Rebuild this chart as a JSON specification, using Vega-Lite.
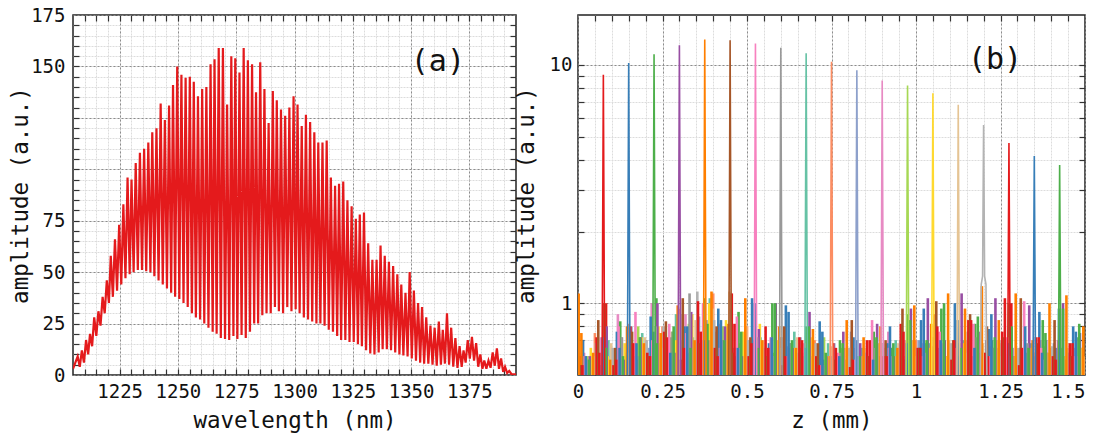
{
"$schema": "https://vega.github.io/schema/vega-lite/v6.json",
"background": "white",
"padding": {"left": 8, "top": 5, "right": 0, "bottom": 0},
"spacing": -4,
"config": {
  "font": "DejaVu Sans Mono",
  "view": {"stroke": "#222", "strokeWidth": 1.5},
  "axis": {"labelFont": "DejaVu Sans Mono", "titleFont": "DejaVu Sans Mono", "labelFontSize": 19, "titleFontSize": 22.5, "labelColor": "#111", "titleColor": "#111", "titleFontWeight": "normal", "domain": false, "tickColor": "#333", "tickWidth": 1.2, "minExtent": 0, "labelFlush": false}
},
"datasets": {
"spec": [
{"w":1205,"v":3},
{"w":1207,"v":9},{"w":1207.9,"v":4},{"w":1208.8,"v":12},{"w":1209.7,"v":6},{"w":1210.6,"v":17},{"w":1211.5,"v":10},{"w":1212.3,"v":20},{"w":1213.2,"v":14},{"w":1214.1,"v":28},{"w":1215,"v":19},
{"w":1215.9,"v":31},{"w":1216.8,"v":24},{"w":1217.7,"v":38},{"w":1218.6,"v":30},{"w":1219.5,"v":46},{"w":1220.4,"v":35},{"w":1221.2,"v":58},{"w":1222.1,"v":38},{"w":1223,"v":66},{"w":1223.9,"v":41},
{"w":1224.8,"v":73},{"w":1225.7,"v":44},{"w":1226.6,"v":83},{"w":1227.5,"v":47},{"w":1228.4,"v":96},{"w":1229.3,"v":49},{"w":1230.1,"v":95},{"w":1231,"v":50},{"w":1231.9,"v":103},{"w":1232.8,"v":51},
{"w":1233.7,"v":108},{"w":1234.6,"v":51},{"w":1235.5,"v":110},{"w":1236.4,"v":50.5},{"w":1237.3,"v":113},{"w":1238.2,"v":50},{"w":1239,"v":118},{"w":1239.9,"v":48},{"w":1240.8,"v":120},{"w":1241.7,"v":46},
{"w":1242.6,"v":132},{"w":1243.5,"v":44},{"w":1244.4,"v":124},{"w":1245.3,"v":42},{"w":1246.2,"v":131},{"w":1247.1,"v":40},{"w":1247.9,"v":141},{"w":1248.8,"v":38},{"w":1249.7,"v":150},{"w":1250.6,"v":37},
{"w":1251.5,"v":146},{"w":1252.4,"v":35},{"w":1253.3,"v":144.5},{"w":1254.2,"v":33},{"w":1255.1,"v":145},{"w":1256,"v":30},{"w":1256.8,"v":142.5},{"w":1257.7,"v":28},{"w":1258.6,"v":135.5},{"w":1259.5,"v":27},
{"w":1260.4,"v":139},{"w":1261.3,"v":25},{"w":1262.2,"v":140},{"w":1263.1,"v":23},{"w":1264,"v":151},{"w":1264.9,"v":21},{"w":1265.7,"v":153.5},{"w":1266.6,"v":20},{"w":1267.5,"v":159},{"w":1268.4,"v":18},
{"w":1269.3,"v":159},{"w":1270.2,"v":17.5},{"w":1271.1,"v":131.5},{"w":1272,"v":17},{"w":1272.9,"v":155},{"w":1273.8,"v":19},{"w":1274.6,"v":154},{"w":1275.5,"v":17.5},{"w":1276.4,"v":147},{"w":1277.3,"v":19.5},
{"w":1278.2,"v":159},{"w":1279.1,"v":18},{"w":1280,"v":153},{"w":1280.9,"v":21},{"w":1281.8,"v":151},{"w":1282.7,"v":25},{"w":1283.5,"v":137.5},{"w":1284.4,"v":25},{"w":1285.3,"v":152},{"w":1286.2,"v":29},
{"w":1287.1,"v":139},{"w":1288,"v":30},{"w":1288.9,"v":122.5},{"w":1289.8,"v":30},{"w":1290.7,"v":138},{"w":1291.6,"v":33},{"w":1292.4,"v":133.5},{"w":1293.3,"v":31},{"w":1294.2,"v":129},{"w":1295.1,"v":30},
{"w":1296,"v":126},{"w":1296.9,"v":33},{"w":1297.8,"v":130},{"w":1298.7,"v":31},{"w":1299.6,"v":135.5},{"w":1300.5,"v":32},{"w":1301.3,"v":131.5},{"w":1302.2,"v":30},{"w":1303.1,"v":121},{"w":1304,"v":28},
{"w":1304.9,"v":126.5},{"w":1305.8,"v":27},{"w":1306.7,"v":123},{"w":1307.6,"v":26},{"w":1308.5,"v":118},{"w":1309.4,"v":25},{"w":1310.2,"v":113},{"w":1311.1,"v":25},{"w":1312,"v":113},{"w":1312.9,"v":24},
{"w":1313.8,"v":114},{"w":1314.7,"v":22},{"w":1315.6,"v":96},{"w":1316.5,"v":21},{"w":1317.4,"v":92},{"w":1318.3,"v":19},{"w":1319.1,"v":93},{"w":1320,"v":17},{"w":1320.9,"v":94},{"w":1321.8,"v":17},
{"w":1322.7,"v":85},{"w":1323.6,"v":16},{"w":1324.5,"v":82},{"w":1325.4,"v":16},{"w":1326.3,"v":76},{"w":1327.2,"v":15},{"w":1328,"v":78},{"w":1328.9,"v":14},{"w":1329.8,"v":79},{"w":1330.7,"v":12},
{"w":1331.6,"v":64},{"w":1332.5,"v":10.5},{"w":1333.4,"v":56},{"w":1334.3,"v":10},{"w":1335.2,"v":56},{"w":1336.1,"v":11},{"w":1336.9,"v":63},{"w":1337.8,"v":12.5},{"w":1338.7,"v":58},{"w":1339.6,"v":12.5},
{"w":1340.5,"v":55},{"w":1341.4,"v":12},{"w":1342.3,"v":53},{"w":1343.2,"v":11},{"w":1344.1,"v":49},{"w":1345,"v":10},{"w":1345.8,"v":44},{"w":1346.7,"v":9.5},{"w":1347.6,"v":40},{"w":1348.5,"v":9},
{"w":1349.4,"v":50},{"w":1350.3,"v":8},{"w":1351.2,"v":41},{"w":1352.1,"v":7},{"w":1353,"v":35},{"w":1353.9,"v":6},{"w":1354.7,"v":33},{"w":1355.6,"v":5.5},{"w":1356.5,"v":28},{"w":1357.4,"v":5.5},
{"w":1358.3,"v":24},{"w":1359.2,"v":5},{"w":1360.1,"v":23},{"w":1361,"v":4.5},{"w":1361.9,"v":26},{"w":1362.8,"v":5},{"w":1363.6,"v":22},{"w":1364.5,"v":5.5},{"w":1365.4,"v":30},{"w":1366.3,"v":5},
{"w":1367.2,"v":23},{"w":1368.1,"v":4},{"w":1369,"v":18},{"w":1369.9,"v":3.5},{"w":1370.8,"v":14},{"w":1371.7,"v":4},{"w":1372.5,"v":12},{"w":1373.4,"v":6},{"w":1374.3,"v":17},{"w":1375.2,"v":8},
{"w":1376.1,"v":18.5},{"w":1377,"v":7},{"w":1377.9,"v":15.5},{"w":1378.8,"v":4},{"w":1379.7,"v":10},{"w":1380.6,"v":3},{"w":1381.4,"v":7},{"w":1382.3,"v":3},{"w":1383.2,"v":7},{"w":1384.1,"v":3.5},
{"w":1385,"v":11},{"w":1385.9,"v":4.5},{"w":1386.8,"v":13},{"w":1387.7,"v":3},{"w":1388.6,"v":8},{"w":1389.5,"v":1.5},{"w":1390.3,"v":4},{"w":1391.2,"v":1},{"w":1392.1,"v":2},{"w":1393,"v":0.5},
{"w":1395,"v":0.3}
],
"peaks": [
{"k":9,"z":0.671,"a":0.45},{"k":9,"z":0.675,"a":11.2},{"k":9,"z":0.679,"a":0.45},
{"k":10,"z":0.746,"a":0.45},{"k":10,"z":0.75,"a":10.3},{"k":10,"z":0.754,"a":0.45},
{"k":11,"z":0.821,"a":0.45},{"k":11,"z":0.825,"a":9.5},{"k":11,"z":0.829,"a":0.45},
{"k":12,"z":0.896,"a":0.45},{"k":12,"z":0.9,"a":8.6},{"k":12,"z":0.904,"a":0.45},
{"k":13,"z":0.971,"a":0.45},{"k":13,"z":0.975,"a":8.2},{"k":13,"z":0.979,"a":0.45},
{"k":14,"z":1.046,"a":0.45},{"k":14,"z":1.05,"a":7.6},{"k":14,"z":1.054,"a":0.45},
{"k":15,"z":1.121,"a":0.45},{"k":15,"z":1.125,"a":6.8},{"k":15,"z":1.129,"a":0.45},
{"k":16,"z":1.19,"a":0.45},{"k":16,"z":1.193,"a":1.2},{"k":16,"z":1.197,"a":1.3},{"k":16,"z":1.2,"a":5.6},{"k":16,"z":1.203,"a":1.3},{"k":16,"z":1.207,"a":1.2},{"k":16,"z":1.21,"a":0.45},
{"k":1,"z":0.071,"a":0.45},{"k":1,"z":0.075,"a":9.1},{"k":1,"z":0.079,"a":0.45},
{"k":2,"z":0.146,"a":0.45},{"k":2,"z":0.15,"a":10.2},{"k":2,"z":0.154,"a":0.45},
{"k":3,"z":0.221,"a":0.45},{"k":3,"z":0.225,"a":11.1},{"k":3,"z":0.229,"a":0.45},
{"k":4,"z":0.296,"a":0.45},{"k":4,"z":0.3,"a":12.1},{"k":4,"z":0.304,"a":0.45},
{"k":5,"z":0.371,"a":0.45},{"k":5,"z":0.375,"a":12.8},{"k":5,"z":0.379,"a":0.45},
{"k":6,"z":0.446,"a":0.45},{"k":6,"z":0.45,"a":12.7},{"k":6,"z":0.454,"a":0.45},
{"k":7,"z":0.521,"a":0.45},{"k":7,"z":0.525,"a":12.3},{"k":7,"z":0.529,"a":0.45},
{"k":8,"z":0.596,"a":0.45},{"k":8,"z":0.6,"a":11.8},{"k":8,"z":0.604,"a":0.45},
{"k":17,"z":1.271,"a":0.45},{"k":17,"z":1.275,"a":4.7},{"k":17,"z":1.279,"a":0.45},
{"k":18,"z":1.346,"a":0.45},{"k":18,"z":1.35,"a":4.15},{"k":18,"z":1.354,"a":0.45},
{"k":19,"z":1.421,"a":0.45},{"k":19,"z":1.425,"a":3.8},{"k":19,"z":1.429,"a":0.45}
],
"noise": [
{"k":9,"z":0.04,"a":0.55},{"k":9,"z":0.09,"a":0.7},{"k":9,"z":0.14,"a":0.62},{"k":9,"z":0.19,"a":0.75},{"k":9,"z":0.24,"a":0.68},{"k":9,"z":0.29,"a":0.9},{"k":9,"z":0.34,"a":0.72},{"k":9,"z":0.39,"a":1.05},{"k":9,"z":0.44,"a":0.8},{"k":9,"z":0.49,"a":0.68},{"k":9,"z":0.54,"a":0.72},{"k":9,"z":0.59,"a":0.65},{"k":9,"z":0.64,"a":0.76},{"k":9,"z":0.69,"a":0.6},{"k":9,"z":0.74,"a":0.68},{"k":9,"z":0.79,"a":0.58},{"k":9,"z":0.84,"a":0.65},{"k":9,"z":0.89,"a":0.6},{"k":9,"z":0.94,"a":0.7},{"k":9,"z":0.99,"a":0.62},{"k":9,"z":1.04,"a":0.68},{"k":9,"z":1.09,"a":0.6},{"k":9,"z":1.14,"a":0.7},{"k":9,"z":1.19,"a":0.58},{"k":9,"z":1.24,"a":0.65},{"k":9,"z":1.29,"a":0.6},{"k":9,"z":1.34,"a":0.68},{"k":9,"z":1.39,"a":0.62},{"k":9,"z":1.44,"a":0.58},{"k":9,"z":1.49,"a":0.65},
{"k":10,"z":0,"a":0.6},{"k":10,"z":0.05,"a":0.75},{"k":10,"z":0.1,"a":0.65},{"k":10,"z":0.15,"a":0.82},{"k":10,"z":0.2,"a":0.7},{"k":10,"z":0.25,"a":0.8},{"k":10,"z":0.3,"a":0.95},{"k":10,"z":0.35,"a":0.76},{"k":10,"z":0.4,"a":1.1},{"k":10,"z":0.45,"a":0.7},{"k":10,"z":0.5,"a":0.8},{"k":10,"z":0.55,"a":0.65},{"k":10,"z":0.6,"a":0.72},{"k":10,"z":0.65,"a":0.6},{"k":10,"z":0.7,"a":0.7},{"k":10,"z":0.8,"a":0.65},{"k":10,"z":0.85,"a":0.6},{"k":10,"z":0.9,"a":0.68},{"k":10,"z":0.95,"a":0.62},{"k":10,"z":1.0,"a":0.7},{"k":10,"z":1.05,"a":0.6},{"k":10,"z":1.1,"a":0.65},{"k":10,"z":1.15,"a":0.7},{"k":10,"z":1.2,"a":0.6},{"k":10,"z":1.25,"a":0.68},{"k":10,"z":1.3,"a":0.62},{"k":10,"z":1.35,"a":0.6},{"k":10,"z":1.4,"a":0.65},{"k":10,"z":1.45,"a":0.58},
{"k":11,"z":0.008,"a":0.58},{"k":11,"z":0.058,"a":0.7},{"k":11,"z":0.108,"a":0.6},{"k":11,"z":0.158,"a":0.8},{"k":11,"z":0.208,"a":0.65},{"k":11,"z":0.258,"a":0.72},{"k":11,"z":0.308,"a":0.7},{"k":11,"z":0.358,"a":0.88},{"k":11,"z":0.408,"a":0.76},{"k":11,"z":0.458,"a":0.65},{"k":11,"z":0.508,"a":0.7},{"k":11,"z":0.558,"a":0.6},{"k":11,"z":0.608,"a":0.65},{"k":11,"z":0.658,"a":0.72},{"k":11,"z":0.708,"a":0.6},{"k":11,"z":0.758,"a":0.68},{"k":11,"z":0.808,"a":0.76},{"k":11,"z":0.858,"a":0.6},{"k":11,"z":0.908,"a":0.65},{"k":11,"z":0.958,"a":0.62},{"k":11,"z":1.008,"a":0.7},{"k":11,"z":1.058,"a":0.6},{"k":11,"z":1.108,"a":0.66},{"k":11,"z":1.158,"a":0.6},{"k":11,"z":1.208,"a":0.7},{"k":11,"z":1.258,"a":0.62},{"k":11,"z":1.308,"a":0.65},{"k":11,"z":1.358,"a":0.58},{"k":11,"z":1.408,"a":0.68},{"k":11,"z":1.458,"a":0.6},
{"k":12,"z":0.018,"a":0.62},{"k":12,"z":0.068,"a":0.72},{"k":12,"z":0.118,"a":0.9},{"k":12,"z":0.168,"a":0.68},{"k":12,"z":0.218,"a":1.0},{"k":12,"z":0.268,"a":0.7},{"k":12,"z":0.318,"a":0.9},{"k":12,"z":0.368,"a":0.76},{"k":12,"z":0.418,"a":0.82},{"k":12,"z":0.468,"a":0.65},{"k":12,"z":0.518,"a":0.7},{"k":12,"z":0.568,"a":0.6},{"k":12,"z":0.618,"a":0.66},{"k":12,"z":0.668,"a":0.62},{"k":12,"z":0.718,"a":0.7},{"k":12,"z":0.768,"a":0.6},{"k":12,"z":0.818,"a":0.65},{"k":12,"z":0.868,"a":0.68},{"k":12,"z":0.918,"a":0.76},{"k":12,"z":0.968,"a":0.6},{"k":12,"z":1.018,"a":0.68},{"k":12,"z":1.068,"a":0.62},{"k":12,"z":1.118,"a":0.7},{"k":12,"z":1.168,"a":0.6},{"k":12,"z":1.218,"a":0.66},{"k":12,"z":1.268,"a":0.6},{"k":12,"z":1.318,"a":0.65},{"k":12,"z":1.368,"a":0.7},{"k":12,"z":1.418,"a":0.6},{"k":12,"z":1.468,"a":0.65},
{"k":13,"z":0.028,"a":0.6},{"k":13,"z":0.078,"a":0.65},{"k":13,"z":0.128,"a":0.72},{"k":13,"z":0.178,"a":0.8},{"k":13,"z":0.228,"a":0.68},{"k":13,"z":0.278,"a":0.76},{"k":13,"z":0.328,"a":0.82},{"k":13,"z":0.378,"a":0.7},{"k":13,"z":0.428,"a":0.8},{"k":13,"z":0.478,"a":0.68},{"k":13,"z":0.528,"a":0.7},{"k":13,"z":0.578,"a":0.62},{"k":13,"z":0.628,"a":0.68},{"k":13,"z":0.678,"a":0.6},{"k":13,"z":0.728,"a":0.72},{"k":13,"z":0.778,"a":0.65},{"k":13,"z":0.828,"a":0.6},{"k":13,"z":0.878,"a":0.7},{"k":13,"z":0.928,"a":0.65},{"k":13,"z":1.028,"a":0.7},{"k":13,"z":1.078,"a":0.62},{"k":13,"z":1.128,"a":0.68},{"k":13,"z":1.178,"a":0.6},{"k":13,"z":1.228,"a":0.65},{"k":13,"z":1.278,"a":0.7},{"k":13,"z":1.328,"a":0.6},{"k":13,"z":1.378,"a":0.66},{"k":13,"z":1.428,"a":0.62},{"k":13,"z":1.478,"a":0.6},
{"k":14,"z":0.038,"a":0.65},{"k":14,"z":0.088,"a":0.6},{"k":14,"z":0.138,"a":0.68},{"k":14,"z":0.188,"a":0.72},{"k":14,"z":0.238,"a":0.8},{"k":14,"z":0.288,"a":0.7},{"k":14,"z":0.338,"a":0.9},{"k":14,"z":0.388,"a":1.0},{"k":14,"z":0.438,"a":0.85},{"k":14,"z":0.488,"a":0.76},{"k":14,"z":0.538,"a":0.82},{"k":14,"z":0.588,"a":0.7},{"k":14,"z":0.638,"a":0.65},{"k":14,"z":0.688,"a":0.72},{"k":14,"z":0.738,"a":0.6},{"k":14,"z":0.788,"a":0.65},{"k":14,"z":0.838,"a":0.6},{"k":14,"z":0.888,"a":0.68},{"k":14,"z":0.938,"a":0.6},{"k":14,"z":0.988,"a":0.7},{"k":14,"z":1.038,"a":0.65},{"k":14,"z":1.088,"a":0.6},{"k":14,"z":1.138,"a":0.68},{"k":14,"z":1.188,"a":0.62},{"k":14,"z":1.238,"a":0.7},{"k":14,"z":1.288,"a":0.6},{"k":14,"z":1.338,"a":0.65},{"k":14,"z":1.388,"a":0.62},{"k":14,"z":1.438,"a":0.6},{"k":14,"z":1.488,"a":0.65},
{"k":15,"z":0.048,"a":0.6},{"k":15,"z":0.098,"a":0.68},{"k":15,"z":0.148,"a":0.62},{"k":15,"z":0.198,"a":0.72},{"k":15,"z":0.248,"a":0.65},{"k":15,"z":0.298,"a":0.76},{"k":15,"z":0.348,"a":0.85},{"k":15,"z":0.398,"a":0.95},{"k":15,"z":0.448,"a":1.12},{"k":15,"z":0.498,"a":0.8},{"k":15,"z":0.548,"a":0.7},{"k":15,"z":0.598,"a":0.65},{"k":15,"z":0.648,"a":0.72},{"k":15,"z":0.698,"a":0.6},{"k":15,"z":0.748,"a":0.66},{"k":15,"z":0.798,"a":0.6},{"k":15,"z":0.848,"a":0.65},{"k":15,"z":0.898,"a":0.62},{"k":15,"z":0.948,"a":0.68},{"k":15,"z":0.998,"a":0.6},{"k":15,"z":1.048,"a":0.66},{"k":15,"z":1.098,"a":0.7},{"k":15,"z":1.148,"a":0.62},{"k":15,"z":1.198,"a":0.68},{"k":15,"z":1.248,"a":0.6},{"k":15,"z":1.298,"a":0.65},{"k":15,"z":1.348,"a":0.62},{"k":15,"z":1.398,"a":0.6},{"k":15,"z":1.448,"a":0.65},{"k":15,"z":1.498,"a":0.6},
{"k":16,"z":0.003,"a":0.62},{"k":16,"z":0.053,"a":0.68},{"k":16,"z":0.103,"a":0.65},{"k":16,"z":0.153,"a":0.72},{"k":16,"z":0.203,"a":0.7},{"k":16,"z":0.253,"a":0.8},{"k":16,"z":0.303,"a":0.9},{"k":16,"z":0.353,"a":1.12},{"k":16,"z":0.403,"a":0.85},{"k":16,"z":0.453,"a":0.95},{"k":16,"z":0.503,"a":0.7},{"k":16,"z":0.553,"a":0.65},{"k":16,"z":0.603,"a":0.72},{"k":16,"z":0.653,"a":0.62},{"k":16,"z":0.703,"a":0.68},{"k":16,"z":0.753,"a":0.6},{"k":16,"z":0.803,"a":0.65},{"k":16,"z":0.853,"a":0.62},{"k":16,"z":0.903,"a":0.68},{"k":16,"z":0.953,"a":0.7},{"k":16,"z":1.003,"a":0.65},{"k":16,"z":1.053,"a":0.72},{"k":16,"z":1.103,"a":0.68},{"k":16,"z":1.153,"a":0.76},{"k":16,"z":1.253,"a":0.7},{"k":16,"z":1.303,"a":0.65},{"k":16,"z":1.353,"a":0.6},{"k":16,"z":1.403,"a":0.66},{"k":16,"z":1.453,"a":0.62},
{"k":1,"z":0.005,"a":0.6},{"k":1,"z":0.055,"a":0.72},{"k":1,"z":0.083,"a":1.0},{"k":1,"z":0.105,"a":0.55},{"k":1,"z":0.155,"a":0.8},{"k":1,"z":0.205,"a":0.62},{"k":1,"z":0.255,"a":0.76},{"k":1,"z":0.305,"a":0.58},{"k":1,"z":0.355,"a":1.02},{"k":1,"z":0.405,"a":0.65},{"k":1,"z":0.455,"a":1.1},{"k":1,"z":0.505,"a":0.6},{"k":1,"z":0.555,"a":0.8},{"k":1,"z":0.605,"a":0.55},{"k":1,"z":0.655,"a":0.72},{"k":1,"z":0.705,"a":0.6},{"k":1,"z":0.755,"a":0.68},{"k":1,"z":0.805,"a":0.54},{"k":1,"z":0.855,"a":0.7},{"k":1,"z":0.905,"a":0.6},{"k":1,"z":0.955,"a":0.82},{"k":1,"z":1.005,"a":0.65},{"k":1,"z":1.055,"a":0.9},{"k":1,"z":1.105,"a":0.58},{"k":1,"z":1.155,"a":0.85},{"k":1,"z":1.205,"a":0.62},{"k":1,"z":1.255,"a":0.76},{"k":1,"z":1.305,"a":0.55},{"k":1,"z":1.355,"a":0.72},{"k":1,"z":1.405,"a":0.6},{"k":1,"z":1.455,"a":0.68},
{"k":2,"z":0.015,"a":0.7},{"k":2,"z":0.065,"a":0.55},{"k":2,"z":0.115,"a":0.76},{"k":2,"z":0.165,"a":0.6},{"k":2,"z":0.215,"a":0.88},{"k":2,"z":0.265,"a":0.58},{"k":2,"z":0.315,"a":0.8},{"k":2,"z":0.365,"a":0.65},{"k":2,"z":0.415,"a":0.95},{"k":2,"z":0.465,"a":0.6},{"k":2,"z":0.515,"a":1.05},{"k":2,"z":0.565,"a":0.68},{"k":2,"z":0.615,"a":0.98},{"k":2,"z":0.665,"a":0.6},{"k":2,"z":0.715,"a":0.84},{"k":2,"z":0.765,"a":0.55},{"k":2,"z":0.815,"a":0.72},{"k":2,"z":0.865,"a":0.62},{"k":2,"z":0.915,"a":0.68},{"k":2,"z":0.965,"a":0.58},{"k":2,"z":1.015,"a":0.85},{"k":2,"z":1.065,"a":0.65},{"k":2,"z":1.115,"a":1.0},{"k":2,"z":1.165,"a":0.6},{"k":2,"z":1.215,"a":0.78},{"k":2,"z":1.265,"a":0.7},{"k":2,"z":1.315,"a":0.6},{"k":2,"z":1.365,"a":0.92},{"k":2,"z":1.415,"a":0.65},{"k":2,"z":1.465,"a":0.8},
{"k":3,"z":0.025,"a":0.55},{"k":3,"z":0.075,"a":0.65},{"k":3,"z":0.125,"a":0.84},{"k":3,"z":0.175,"a":0.58},{"k":3,"z":0.232,"a":1.05},{"k":3,"z":0.275,"a":0.72},{"k":3,"z":0.325,"a":0.62},{"k":3,"z":0.375,"a":1.05},{"k":3,"z":0.425,"a":0.7},{"k":3,"z":0.475,"a":0.92},{"k":3,"z":0.525,"a":0.6},{"k":3,"z":0.575,"a":1.0},{"k":3,"z":0.625,"a":0.65},{"k":3,"z":0.675,"a":0.8},{"k":3,"z":0.725,"a":0.58},{"k":3,"z":0.775,"a":0.7},{"k":3,"z":0.825,"a":0.6},{"k":3,"z":0.875,"a":0.76},{"k":3,"z":0.925,"a":0.65},{"k":3,"z":0.975,"a":0.9},{"k":3,"z":1.025,"a":0.68},{"k":3,"z":1.075,"a":0.95},{"k":3,"z":1.125,"a":0.6},{"k":3,"z":1.175,"a":0.82},{"k":3,"z":1.225,"a":0.7},{"k":3,"z":1.275,"a":1.0},{"k":3,"z":1.325,"a":0.62},{"k":3,"z":1.375,"a":0.85},{"k":3,"z":1.425,"a":0.58},{"k":3,"z":1.475,"a":0.72},
{"k":4,"z":0.035,"a":0.6},{"k":4,"z":0.085,"a":0.8},{"k":4,"z":0.135,"a":0.58},{"k":4,"z":0.185,"a":0.72},{"k":4,"z":0.235,"a":1.0},{"k":4,"z":0.285,"a":0.62},{"k":4,"z":0.335,"a":0.92},{"k":4,"z":0.385,"a":0.7},{"k":4,"z":0.435,"a":0.8},{"k":4,"z":0.485,"a":0.6},{"k":4,"z":0.535,"a":0.78},{"k":4,"z":0.585,"a":1.0},{"k":4,"z":0.635,"a":0.65},{"k":4,"z":0.685,"a":0.92},{"k":4,"z":0.735,"a":0.6},{"k":4,"z":0.785,"a":0.76},{"k":4,"z":0.835,"a":0.68},{"k":4,"z":0.885,"a":0.82},{"k":4,"z":0.935,"a":0.6},{"k":4,"z":0.985,"a":0.95},{"k":4,"z":1.035,"a":1.05},{"k":4,"z":1.085,"a":0.7},{"k":4,"z":1.135,"a":1.1},{"k":4,"z":1.185,"a":0.76},{"k":4,"z":1.235,"a":1.05},{"k":4,"z":1.285,"a":0.65},{"k":4,"z":1.335,"a":0.98},{"k":4,"z":1.385,"a":0.7},{"k":4,"z":1.435,"a":1.0},{"k":4,"z":1.485,"a":0.75},
{"k":5,"z":0.002,"a":1.1},{"k":5,"z":0.01,"a":0.75},{"k":5,"z":0.02,"a":0.6},{"k":5,"z":0.045,"a":0.62},{"k":5,"z":0.095,"a":0.58},{"k":5,"z":0.145,"a":0.8},{"k":5,"z":0.195,"a":0.68},{"k":5,"z":0.245,"a":0.75},{"k":5,"z":0.295,"a":0.98},{"k":5,"z":0.345,"a":0.7},{"k":5,"z":0.395,"a":1.12},{"k":5,"z":0.445,"a":0.82},{"k":5,"z":0.495,"a":1.05},{"k":5,"z":0.545,"a":0.7},{"k":5,"z":0.595,"a":0.8},{"k":5,"z":0.645,"a":0.65},{"k":5,"z":0.695,"a":0.78},{"k":5,"z":0.745,"a":0.6},{"k":5,"z":0.795,"a":0.85},{"k":5,"z":0.845,"a":0.72},{"k":5,"z":0.895,"a":0.8},{"k":5,"z":0.945,"a":0.65},{"k":5,"z":0.995,"a":0.98},{"k":5,"z":1.045,"a":0.82},{"k":5,"z":1.095,"a":1.1},{"k":5,"z":1.145,"a":0.95},{"k":5,"z":1.195,"a":1.18},{"k":5,"z":1.245,"a":0.85},{"k":5,"z":1.295,"a":1.1},{"k":5,"z":1.345,"a":0.7},{"k":5,"z":1.395,"a":1.0},{"k":5,"z":1.445,"a":1.08},{"k":5,"z":1.495,"a":0.8},
{"k":6,"z":0.01,"a":0.55},{"k":6,"z":0.06,"a":0.85},{"k":6,"z":0.078,"a":1.0},{"k":6,"z":0.11,"a":0.65},{"k":6,"z":0.16,"a":0.76},{"k":6,"z":0.21,"a":0.6},{"k":6,"z":0.26,"a":0.84},{"k":6,"z":0.31,"a":1.05},{"k":6,"z":0.36,"a":0.68},{"k":6,"z":0.41,"a":0.8},{"k":6,"z":0.46,"a":0.62},{"k":6,"z":0.51,"a":0.72},{"k":6,"z":0.56,"a":0.6},{"k":6,"z":0.61,"a":0.8},{"k":6,"z":0.66,"a":0.65},{"k":6,"z":0.71,"a":0.68},{"k":6,"z":0.76,"a":0.58},{"k":6,"z":0.81,"a":0.85},{"k":6,"z":0.86,"a":0.6},{"k":6,"z":0.91,"a":0.7},{"k":6,"z":0.96,"a":0.95},{"k":6,"z":1.01,"a":0.65},{"k":6,"z":1.06,"a":1.02},{"k":6,"z":1.11,"a":0.7},{"k":6,"z":1.16,"a":0.9},{"k":6,"z":1.21,"a":0.8},{"k":6,"z":1.26,"a":0.72},{"k":6,"z":1.31,"a":1.05},{"k":6,"z":1.36,"a":0.68},{"k":6,"z":1.41,"a":0.85},{"k":6,"z":1.46,"a":0.6},
{"k":7,"z":0.02,"a":0.6},{"k":7,"z":0.07,"a":0.68},{"k":7,"z":0.12,"a":0.8},{"k":7,"z":0.17,"a":0.92},{"k":7,"z":0.22,"a":0.7},{"k":7,"z":0.27,"a":0.82},{"k":7,"z":0.32,"a":0.75},{"k":7,"z":0.37,"a":1.0},{"k":7,"z":0.42,"a":0.65},{"k":7,"z":0.47,"a":0.88},{"k":7,"z":0.57,"a":0.72},{"k":7,"z":0.62,"a":0.6},{"k":7,"z":0.67,"a":0.68},{"k":7,"z":0.72,"a":0.55},{"k":7,"z":0.77,"a":0.62},{"k":7,"z":0.82,"a":0.58},{"k":7,"z":0.87,"a":0.85},{"k":7,"z":0.92,"a":0.65},{"k":7,"z":0.97,"a":0.7},{"k":7,"z":1.02,"a":0.6},{"k":7,"z":1.07,"a":0.76},{"k":7,"z":1.12,"a":0.65},{"k":7,"z":1.17,"a":0.82},{"k":7,"z":1.22,"a":0.6},{"k":7,"z":1.27,"a":0.72},{"k":7,"z":1.32,"a":1.02},{"k":7,"z":1.37,"a":0.65},{"k":7,"z":1.42,"a":0.7},{"k":7,"z":1.47,"a":0.6},
{"k":8,"z":0.03,"a":0.58},{"k":8,"z":0.08,"a":0.65},{"k":8,"z":0.13,"a":0.72},{"k":8,"z":0.18,"a":0.6},{"k":8,"z":0.23,"a":0.8},{"k":8,"z":0.28,"a":0.76},{"k":8,"z":0.33,"a":1.1},{"k":8,"z":0.38,"a":0.85},{"k":8,"z":0.43,"a":0.7},{"k":8,"z":0.48,"a":0.65},{"k":8,"z":0.53,"a":0.72},{"k":8,"z":0.58,"a":0.6},{"k":8,"z":0.63,"a":0.68},{"k":8,"z":0.68,"a":0.6},{"k":8,"z":0.73,"a":0.55},{"k":8,"z":0.78,"a":0.62},{"k":8,"z":0.83,"a":0.58},{"k":8,"z":0.88,"a":0.65},{"k":8,"z":0.93,"a":0.6},{"k":8,"z":0.98,"a":0.7},{"k":8,"z":1.03,"a":0.62},{"k":8,"z":1.08,"a":0.68},{"k":8,"z":1.13,"a":0.6},{"k":8,"z":1.18,"a":0.72},{"k":8,"z":1.23,"a":0.65},{"k":8,"z":1.28,"a":0.6},{"k":8,"z":1.33,"a":0.68},{"k":8,"z":1.38,"a":0.58},{"k":8,"z":1.43,"a":0.65},{"k":8,"z":1.48,"a":0.6},
{"k":17,"z":0.013,"a":0.55},{"k":17,"z":0.063,"a":0.62},{"k":17,"z":0.113,"a":0.58},{"k":17,"z":0.163,"a":0.68},{"k":17,"z":0.213,"a":0.6},{"k":17,"z":0.263,"a":0.72},{"k":17,"z":0.313,"a":0.65},{"k":17,"z":0.363,"a":0.76},{"k":17,"z":0.413,"a":0.6},{"k":17,"z":0.463,"a":0.82},{"k":17,"z":0.513,"a":0.68},{"k":17,"z":0.563,"a":0.65},{"k":17,"z":0.613,"a":0.6},{"k":17,"z":0.663,"a":0.7},{"k":17,"z":0.713,"a":0.55},{"k":17,"z":0.763,"a":0.65},{"k":17,"z":0.813,"a":0.58},{"k":17,"z":0.863,"a":0.7},{"k":17,"z":0.913,"a":0.6},{"k":17,"z":0.963,"a":0.76},{"k":17,"z":1.013,"a":0.65},{"k":17,"z":1.063,"a":0.8},{"k":17,"z":1.113,"a":0.7},{"k":17,"z":1.163,"a":0.85},{"k":17,"z":1.213,"a":0.6},{"k":17,"z":1.263,"a":1.05},{"k":17,"z":1.282,"a":1.0},{"k":17,"z":1.313,"a":0.65},{"k":17,"z":1.363,"a":0.72},{"k":17,"z":1.413,"a":0.58},{"k":17,"z":1.463,"a":0.68},
{"k":18,"z":0.023,"a":0.6},{"k":18,"z":0.073,"a":0.72},{"k":18,"z":0.123,"a":0.65},{"k":18,"z":0.173,"a":0.68},{"k":18,"z":0.223,"a":0.76},{"k":18,"z":0.273,"a":0.62},{"k":18,"z":0.323,"a":0.8},{"k":18,"z":0.373,"a":0.7},{"k":18,"z":0.423,"a":0.85},{"k":18,"z":0.473,"a":0.65},{"k":18,"z":0.523,"a":1.0},{"k":18,"z":0.573,"a":0.72},{"k":18,"z":0.623,"a":0.92},{"k":18,"z":0.673,"a":0.65},{"k":18,"z":0.723,"a":0.76},{"k":18,"z":0.773,"a":0.6},{"k":18,"z":0.823,"a":0.7},{"k":18,"z":0.873,"a":0.58},{"k":18,"z":0.923,"a":0.8},{"k":18,"z":0.973,"a":0.68},{"k":18,"z":1.023,"a":0.95},{"k":18,"z":1.073,"a":0.7},{"k":18,"z":1.123,"a":0.85},{"k":18,"z":1.173,"a":0.65},{"k":18,"z":1.223,"a":0.9},{"k":18,"z":1.273,"a":0.68},{"k":18,"z":1.323,"a":0.8},{"k":18,"z":1.373,"a":0.62},{"k":18,"z":1.423,"a":0.95},{"k":18,"z":1.473,"a":0.76},
{"k":19,"z":0.033,"a":0.58},{"k":19,"z":0.083,"a":0.65},{"k":19,"z":0.133,"a":0.6},{"k":19,"z":0.183,"a":0.72},{"k":19,"z":0.233,"a":0.68},{"k":19,"z":0.283,"a":0.8},{"k":19,"z":0.333,"a":0.65},{"k":19,"z":0.383,"a":0.82},{"k":19,"z":0.433,"a":0.7},{"k":19,"z":0.483,"a":0.76},{"k":19,"z":0.533,"a":0.65},{"k":19,"z":0.583,"a":1.0},{"k":19,"z":0.633,"a":0.7},{"k":19,"z":0.683,"a":0.8},{"k":19,"z":0.733,"a":0.62},{"k":19,"z":0.783,"a":0.68},{"k":19,"z":0.833,"a":0.6},{"k":19,"z":0.883,"a":0.72},{"k":19,"z":0.933,"a":0.68},{"k":19,"z":0.983,"a":0.85},{"k":19,"z":1.033,"a":0.7},{"k":19,"z":1.083,"a":1.0},{"k":19,"z":1.133,"a":0.65},{"k":19,"z":1.183,"a":0.88},{"k":19,"z":1.233,"a":0.72},{"k":19,"z":1.283,"a":0.8},{"k":19,"z":1.333,"a":0.65},{"k":19,"z":1.383,"a":0.75},{"k":19,"z":1.435,"a":0.95},{"k":19,"z":1.483,"a":0.82}
]
},
"hconcat": [
{
  "width": 443, "height": 360,
  "layer": [
    {"data": {"name": "spec"},
     "mark": {"type": "line", "opacity": 0},
     "encoding": {
       "x": {"field": "w", "type": "quantitative", "scale": {"domain": [1205, 1395], "nice": false, "zero": false},
             "axis": {"orient": "bottom", "values": [1210,1215,1220,1225,1230,1235,1240,1245,1250,1255,1260,1265,1270,1275,1280,1285,1290,1295,1300,1305,1310,1315,1320,1325,1330,1335,1340,1345,1350,1355,1360,1365,1370,1375,1380,1385,1390], "labels": false, "title": null, "grid": true, "gridColor": "#dcdcdc", "gridDash": [2,1], "ticks": true, "tickSize": -6}},
       "y": {"field": "v", "type": "quantitative", "scale": {"domain": [0, 175], "nice": false},
             "axis": {"orient": "left", "values": [5,10,15,20,25,30,35,40,45,50,55,60,65,70,75,80,85,90,95,100,105,110,115,120,125,130,135,140,145,150,155,160,165,170], "labels": false, "title": null, "grid": true, "gridColor": "#dcdcdc", "gridDash": [2,1], "ticks": true, "tickSize": -6}}
     }},
    {"data": {"name": "spec"},
     "mark": {"type": "line", "opacity": 0},
     "encoding": {
       "x": {"field": "w", "type": "quantitative",
             "axis": {"orient": "top", "values": [1210,1215,1220,1225,1230,1235,1240,1245,1250,1255,1260,1265,1270,1275,1280,1285,1290,1295,1300,1305,1310,1315,1320,1325,1330,1335,1340,1345,1350,1355,1360,1365,1370,1375,1380,1385,1390], "labels": false, "title": null, "grid": false, "ticks": true, "tickSize": -6}},
       "y": {"field": "v", "type": "quantitative",
             "axis": {"orient": "right", "values": [5,10,15,20,25,30,35,40,45,50,55,60,65,70,75,80,85,90,95,100,105,110,115,120,125,130,135,140,145,150,155,160,165,170], "labels": false, "title": null, "grid": false, "ticks": true, "tickSize": -6}}
     }},
    {"data": {"name": "spec"},
     "mark": {"type": "line", "color": "#e41a1c", "strokeWidth": 2.2, "clip": true},
     "encoding": {
       "x": {"field": "w", "type": "quantitative",
             "axis": {"orient": "bottom", "values": [1225,1250,1275,1300,1325,1350,1375], "format": "d", "title": "wavelength (nm)", "grid": true, "gridColor": "#8c8c8c", "gridDash": [2,2], "ticks": false, "labelPadding": 7, "titlePadding": 8}},
       "y": {"field": "v", "type": "quantitative",
             "axis": {"orient": "left", "values": [0,25,50,75,100,125,150,175], "format": "d", "labelExpr": "datum.value == 100 || datum.value == 125 ? '' : datum.label", "title": "amplitude (a.u.)", "grid": true, "gridColor": "#8c8c8c", "gridDash": [2,2], "ticks": false, "labelPadding": 8, "titlePadding": -2}}
     }},
    {"data": {"values": [{}]},
     "mark": {"type": "text", "font": "DejaVu Sans Mono", "fontSize": 30, "fontWeight": "normal", "color": "#111"},
     "encoding": {"x": {"datum": 1361.5, "type": "quantitative", "axis": null}, "y": {"datum": 152, "type": "quantitative", "axis": null}, "text": {"value": "(a)"}}}
  ],
  "resolve": {"axis": {"x": "independent", "y": "independent"}}
},
{
  "width": 507, "height": 360,
  "layer": [
    {"data": {"name": "peaks"},
     "mark": {"type": "line", "opacity": 0},
     "encoding": {
       "x": {"field": "z", "type": "quantitative", "scale": {"domain": [0, 1.5], "nice": false, "zero": false},
             "axis": {"orient": "bottom", "values": [0.05,0.1,0.15,0.2,0.25,0.3,0.35,0.4,0.45,0.5,0.55,0.6,0.65,0.7,0.75,0.8,0.85,0.9,0.95,1,1.05,1.1,1.15,1.2,1.25,1.3,1.35,1.4,1.45], "labels": false, "title": null, "grid": true, "gridColor": "#dcdcdc", "gridDash": [2,1], "ticks": true, "tickSize": -6}},
       "y": {"field": "a", "type": "quantitative", "scale": {"type": "log", "domain": [0.5, 16.2], "nice": false},
             "axis": {"orient": "left", "values": [0.6,0.7,0.8,0.9,1,2,3,4,5,6,7,8,9,10], "labels": false, "title": null, "grid": true, "gridColor": "#dcdcdc", "gridDash": [2,1], "ticks": true, "tickSize": -6}}
     }},
    {"data": {"name": "peaks"},
     "mark": {"type": "line", "opacity": 0},
     "encoding": {
       "x": {"field": "z", "type": "quantitative",
             "axis": {"orient": "top", "values": [0.05,0.1,0.15,0.2,0.25,0.3,0.35,0.4,0.45,0.5,0.55,0.6,0.65,0.7,0.75,0.8,0.85,0.9,0.95,1,1.05,1.1,1.15,1.2,1.25,1.3,1.35,1.4,1.45], "labels": false, "title": null, "grid": false, "ticks": true, "tickSize": -6}},
       "y": {"field": "a", "type": "quantitative",
             "axis": {"orient": "right", "values": [0.6,0.7,0.8,0.9,1,2,3,4,5,6,7,8,9,10], "labels": false, "title": null, "grid": false, "ticks": true, "tickSize": -6}}
     }},
    {"data": {"name": "noise"},
     "mark": {"type": "rule", "strokeWidth": 2.6, "clip": true},
     "encoding": {
       "x": {"field": "z", "type": "quantitative",
             "axis": {"orient": "bottom", "values": [0,0.25,0.5,0.75,1,1.25,1.5], "labelExpr": "format(datum.value, '.2~f')", "labelAlign": {"condition": {"test": "datum.value >= 1.5", "value": "right"}, "value": "center"}, "title": "z (mm)", "grid": true, "gridColor": "#8c8c8c", "gridDash": [2,2], "ticks": false, "labelPadding": 7, "titlePadding": 8}},
       "y": {"field": "a", "type": "quantitative",
             "axis": {"orient": "left", "values": [1,10], "format": "~f", "title": "amplitude (a.u.)", "grid": true, "gridColor": "#8c8c8c", "gridDash": [2,2], "ticks": false, "labelPadding": 6, "titlePadding": 11}},
       "y2": {"datum": 0.5},
       "color": {"field": "k", "type": "nominal", "legend": null,
                 "scale": {"domain": [9,10,11,12,13,14,15,16,1,2,3,4,5,6,7,8,17,18,19],
                           "range": ["#66c2a5","#fc8d62","#8da0cb","#e78ac3","#a6d854","#ffd92f","#e5c494","#b3b3b3","#e41a1c","#377eb8","#4daf4a","#984ea3","#ff7f00","#a65628","#f781bf","#999999","#e41a1c","#377eb8","#4daf4a"]}}
     }},
    {"data": {"name": "peaks"},
     "mark": {"type": "line", "strokeWidth": 1.6, "clip": true},
     "encoding": {
       "x": {"field": "z", "type": "quantitative", "axis": null},
       "y": {"field": "a", "type": "quantitative", "axis": null},
       "color": {"field": "k", "type": "nominal", "legend": null}
     }},
    {"data": {"values": [{}]},
     "mark": {"type": "text", "font": "DejaVu Sans Mono", "fontSize": 30, "fontWeight": "normal", "color": "#111"},
     "encoding": {"x": {"datum": 1.234, "type": "quantitative", "axis": null}, "y": {"datum": 10.5, "type": "quantitative", "axis": null}, "text": {"value": "(b)"}}}
  ],
  "resolve": {"axis": {"x": "independent", "y": "independent"}}
}
]
}
